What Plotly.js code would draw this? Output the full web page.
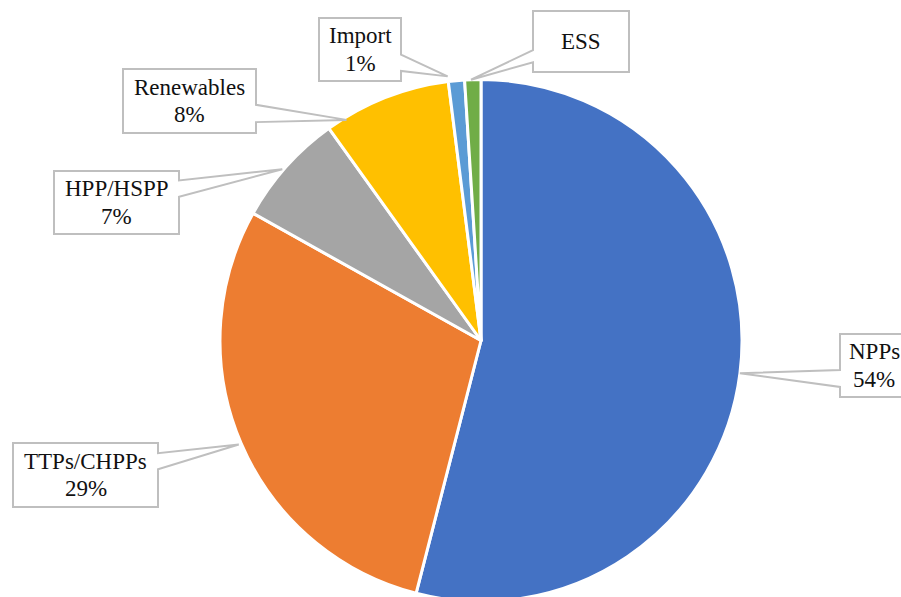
<!DOCTYPE html>
<html>
<head>
<meta charset="utf-8">
<script src="https://cdn.plot.ly/plotly-3.0.1.min.js"></script>
<style>
  html, body { margin: 0; padding: 0; background: #fff; }
  #wrap { width: 901px; height: 597px; overflow: hidden; position: relative; }
  #chart { width: 901px; height: 602px; }
</style>
</head>
<body>
<div id="wrap"><div id="chart"></div></div>
<script>
// ---- data ----
const labels = ['NPPs', 'TTPs/CHPPs', 'HPP/HSPP', 'Renewables', 'Import', 'ESS'];
const shares = [54.0, 29.1, 7.0, 7.9, 1.0, 1.0];
const showPercent = [true, true, true, true, true, false];

// ---- style ----
const colors = ['#4472C4', '#ED7D31', '#A5A5A5', '#FFC000', '#5B9BD5', '#70AD47'];
const W = 901, H = 602;
const CX = 481, CY = 340.5, R = 261; // pie geometry in px
const boxes = [
  {b: [840, 334, 908, 397], side: 'left',  a: [0.57, 0.84], f: 0.5,  rf: 1.0},
  {b: [13, 443, 158, 507],  side: 'right', a: [0.16, 0.41], f: 0.5,  rf: 1.01},
  {b: [54, 171, 179, 234],  side: 'right', a: [0.15, 0.41], f: 0.46, rf: 1.005},
  {b: [123, 69, 256, 133],  side: 'right', a: [0.56, 0.83], f: 0.15, rf: 0.99},
  {b: [319, 18, 401, 81],   side: 'right', a: [0.58, 0.84], f: 0.0,  rf: 1.02},
  {b: [533, 11, 629, 72],   side: 'left',  a: [0.64, 0.84], f: 0.39, rf: 1.0}
];
const lineGap = 27.5;
const textFont = {family: 'Times New Roman', size: 23, color: '#111111'};

const px = x => x / W;
const py = y => 1 - y / H;

const total = shares.reduce((s, v) => s + v, 0);
let cum = 0;
const shapes = [];
const annotations = [];
shares.forEach((v, i) => {
  const cfg = boxes[i];
  const frac = (cum + cfg.f * v) / total;
  cum += v;
  const ang = frac * 2 * Math.PI;
  const tx = CX + R * cfg.rf * Math.sin(ang);
  const ty = CY - R * cfg.rf * Math.cos(ang);
  const [x0, y0, x1, y1] = cfg.b;
  const ya = y0 + cfg.a[0] * (y1 - y0);
  const yb = y0 + cfg.a[1] * (y1 - y0);
  let pts;
  if (cfg.side === 'right') {
    pts = [[x0, y0], [x1, y0], [x1, ya], [tx, ty], [x1, yb], [x1, y1], [x0, y1]];
  } else {
    pts = [[x0, y0], [x1, y0], [x1, y1], [x0, y1], [x0, yb], [tx, ty], [x0, ya]];
  }
  const path = 'M' + pts.map(p => px(p[0]).toFixed(5) + ',' + py(p[1]).toFixed(5)).join(' L') + ' Z';
  shapes.push({
    type: 'path', xref: 'paper', yref: 'paper', path: path,
    fillcolor: '#FFFFFF', line: {color: '#BFBFBF', width: 2}, layer: 'above'
  });
  const cxb = (x0 + x1) / 2, cyb = (y0 + y1) / 2;
  const lines = showPercent[i] ? [labels[i], Math.round(v) + '%'] : [labels[i]];
  lines.forEach((t, k) => {
    const off = (k - (lines.length - 1) / 2) * lineGap;
    annotations.push({
      xref: 'paper', yref: 'paper', x: px(cxb), y: py(cyb + off),
      xanchor: 'center', yanchor: 'middle', text: t, showarrow: false,
      font: textFont
    });
  });
});

const trace = {
  type: 'pie',
  labels: labels,
  values: shares,
  sort: false,
  direction: 'clockwise',
  rotation: 0,
  textinfo: 'none',
  hoverinfo: 'label+percent',
  marker: {colors: colors, line: {color: '#FFFFFF', width: 3}},
  domain: {x: [px(CX - R), px(CX + R)], y: [py(CY + R), py(CY - R)]},
  showlegend: false
};

Plotly.newPlot('chart', [trace], {
  width: W, height: H,
  margin: {l: 0, r: 0, t: 0, b: 0},
  paper_bgcolor: '#FFFFFF',
  font: {family: 'Times New Roman'},
  showlegend: false,
  shapes: shapes,
  annotations: annotations
}, {displayModeBar: false, staticPlot: true});
</script>
</body>
</html>
